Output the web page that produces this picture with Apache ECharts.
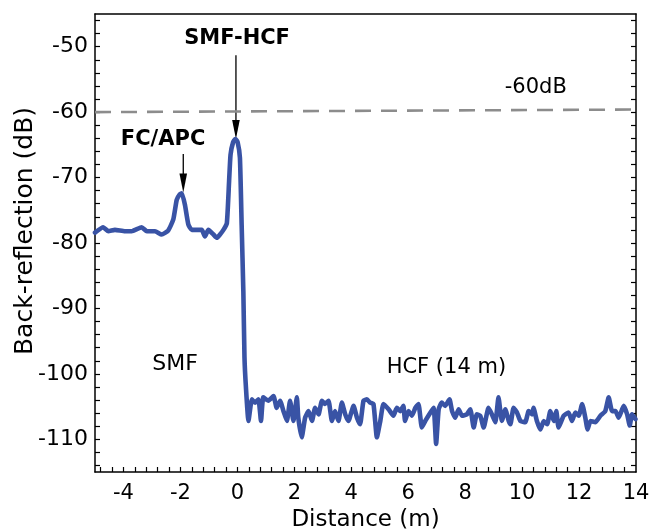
<!DOCTYPE html>
<html>
<head>
<meta charset="utf-8">
<script src="https://cdn.jsdelivr.net/npm/echarts@6/dist/echarts.min.js"></script>
<style>html,body{margin:0;padding:0;background:#fff;}#chart{width:651px;height:530px;}</style>
</head>
<body>
<div id="chart"></div>
<script>
// ---- data ----
const distance = [-5.00,-4.71,-4.53,-4.30,-3.95,-3.71,-3.36,-3.18,-2.89,-2.66,-2.43,-2.25,-2.13,-2.03,-1.95,-1.84,-1.72,-1.60,-1.25,-1.14,-1.02,-0.84,-0.72,-0.61,-0.49,-0.37,-0.29,-0.24,-0.15,-0.07,0.01,0.09,0.15,0.21,0.25,0.30,0.39,0.51,0.62,0.74,0.83,0.91,1.09,1.27,1.38,1.50,1.62,1.74,1.85,1.97,2.09,2.14,2.26,2.38,2.50,2.62,2.73,2.85,2.97,3.08,3.20,3.32,3.43,3.55,3.67,3.79,3.90,4.08,4.20,4.31,4.43,4.55,4.66,4.78,4.90,5.02,5.13,5.31,5.48,5.60,5.72,5.83,5.89,6.01,6.13,6.25,6.36,6.48,6.60,6.71,6.89,6.98,7.07,7.18,7.30,7.45,7.54,7.65,7.77,7.89,8.06,8.18,8.30,8.41,8.53,8.65,8.82,8.94,9.06,9.17,9.29,9.41,9.53,9.59,9.70,9.82,9.94,10.11,10.23,10.35,10.40,10.52,10.64,10.76,10.88,10.99,11.11,11.20,11.28,11.46,11.63,11.75,11.87,11.99,12.11,12.22,12.30,12.40,12.57,12.75,12.92,13.04,13.16,13.28,13.39,13.57,13.69,13.78,13.86,13.98];
const backReflection = [-78.4,-77.6,-78.2,-78.0,-78.2,-78.2,-77.6,-78.2,-78.2,-78.7,-78.1,-76.4,-73.4,-72.6,-72.4,-74.2,-77.2,-78.0,-78.0,-79.0,-78.0,-78.7,-79.2,-78.7,-78.0,-77.0,-70.5,-66.5,-64.6,-64.1,-64.6,-67.0,-77.2,-87.4,-97.5,-102.0,-107.2,-103.9,-104.4,-103.9,-107.2,-103.6,-104.1,-103.4,-105.2,-104.1,-105.7,-107.2,-104.1,-107.2,-103.6,-106.7,-109.7,-106.7,-105.7,-107.2,-105.2,-106.2,-104.1,-104.6,-104.1,-107.2,-105.7,-107.2,-104.4,-106.2,-107.2,-104.9,-106.7,-107.7,-104.1,-103.9,-104.4,-104.6,-109.7,-107.2,-104.6,-105.4,-106.4,-105.2,-105.7,-104.9,-107.2,-105.7,-106.4,-105.2,-104.6,-108.2,-107.2,-106.4,-105.2,-110.7,-105.4,-104.4,-104.9,-103.9,-105.7,-106.7,-105.4,-106.4,-106.2,-105.4,-108.2,-106.2,-106.4,-108.2,-105.2,-106.2,-107.4,-103.6,-107.2,-105.4,-107.2,-107.7,-105.2,-105.9,-107.2,-107.4,-105.7,-106.2,-105.2,-107.2,-108.5,-107.2,-107.7,-105.7,-107.2,-105.7,-108.2,-106.4,-105.9,-107.2,-105.9,-106.4,-104.6,-106.7,-108.5,-107.2,-107.4,-106.4,-105.7,-103.6,-105.7,-105.7,-106.7,-104.9,-106.2,-107.9,-106.2,-106.9];

const xLabelValues = [-4,-2,0,2,4,6,8,10,12,14];
const xTickValues = [-4.8,-4.4,-4,-3.6,-3.2,-2.8,-2.4,-2,-1.6,-1.2,-0.8,-0.4,0,0.4,0.8,1.2,1.6,2,2.4,2.8,3.2,3.6,4,4.4,4.8,5.2,5.6,6,6.4,6.8,7.2,7.6,8,8.4,8.8,9.2,9.6,10,10.4,10.8,11.2,11.6,12,12.4,12.8,13.2,13.6];
const yLabelValues = [-110,-100,-90,-80,-70,-60,-50];
const yTickValues = [-114,-112,-110,-108,-106,-104,-102,-100,-98,-96,-94,-92,-90,-88,-86,-84,-82,-80,-78,-76,-74,-72,-70,-68,-66,-64,-62,-60,-58,-56,-54,-52,-50,-48,-46];

const refLineX = [-5, 14];
const refLineY = [-60, -59.6];

const annotationText = ['SMF-HCF', 'FC/APC', '-60dB', 'SMF', 'HCF (14 m)'];
const annotationX = [-0.01, -2.61, 10.48, -2.19, 7.34];
const annotationY = [-48.7, -64.25, -56.3, -98.55, -99.0];
const annotationBold = [true, true, false, false, false];
const annotationSize = [21, 21, 21, 22, 21];

const arrowX = [-0.05, -1.90];
const arrowYStart = [-51.3, -66.4];
const arrowYEnd = [-64.1, -72.3];

// ---- chart ----
const FONT = 'DejaVu Sans';
const chart = echarts.init(document.getElementById('chart'), null, {renderer: 'canvas'});

const lineData = distance.map((d, i) => [d, backReflection[i]]);
const annData = annotationText.map((t, i) => ({
  value: [annotationX[i], annotationY[i]],
  name: t,
  label: {color: '#000', opacity: 1, fontWeight: annotationBold[i] ? 'bold' : 'normal', fontSize: annotationSize[i], textBorderWidth: 0}
}));
const arrowData = arrowX.map((x, i) => [x, arrowYStart[i], arrowYEnd[i]]);

const axisLineStyle = {color: '#000', width: 1.5};

chart.setOption({
  animation: false,
  backgroundColor: '#fff',
  grid: {left: 95, top: 14, right: 15, bottom: 58, outerBoundsMode: 'none', containLabel: false},
  xAxis: [{
    type: 'value', min: -5, max: 14, position: 'bottom',
    name: 'Distance (m)', nameLocation: 'middle', nameGap: 32,
    nameTextStyle: {fontFamily: FONT, fontSize: 23, color: '#000'},
    axisLine: {show: true, onZero: false, lineStyle: axisLineStyle},
    axisTick: {show: true, inside: true, length: 5, customValues: xTickValues, lineStyle: {color: '#000', width: 1.2}},
    axisLabel: {show: true, customValues: xLabelValues, margin: 11, fontFamily: FONT, fontSize: 21, color: '#000'},
    splitLine: {show: false}, minorTick: {show: false}
  }, {
    type: 'value', min: -5, max: 14, position: 'top',
    axisLine: {show: true, onZero: false, lineStyle: axisLineStyle},
    axisTick: {show: false}, axisLabel: {show: false}, splitLine: {show: false}
  }],
  yAxis: [{
    type: 'value', min: -115, max: -45, position: 'left',
    name: 'Back-reflection (dB)', nameLocation: 'middle', nameGap: 57, nameMoveOverlap: false,
    nameTextStyle: {fontFamily: FONT, fontSize: 25, color: '#000', padding: [0, 0, 0, 24]},
    axisLine: {show: true, onZero: false, lineStyle: axisLineStyle},
    axisTick: {show: true, inside: true, length: 5, customValues: yTickValues, lineStyle: {color: '#000', width: 1.2}},
    axisLabel: {show: true, customValues: yLabelValues, margin: 7, fontFamily: FONT, fontSize: 22, color: '#000'},
    splitLine: {show: false}
  }, {
    type: 'value', min: -115, max: -45, position: 'right',
    axisLine: {show: true, onZero: false, lineStyle: axisLineStyle},
    axisTick: {show: true, inside: true, length: 5, customValues: yTickValues, lineStyle: {color: '#000', width: 1.2}},
    axisLabel: {show: false}, splitLine: {show: false}
  }],
  series: [
    {
      type: 'line', name: '-60dB', data: refLineX.map((x, i) => [x, refLineY[i]]),
      symbol: 'none', silent: true,
      lineStyle: {color: '#8c8c8c', width: 2.6, type: [16, 10]}
    },
    {
      type: 'line', name: 'Back-reflection', data: lineData,
      symbol: 'none', smooth: 0.15, clip: true,
      lineStyle: {color: '#3953a5', width: 4.6, join: 'round', cap: 'round'}
    },
    {
      type: 'custom', name: 'arrows', data: arrowData, silent: true,
      renderItem: function (params, api) {
        const p1 = api.coord([api.value(0), api.value(1)]);
        const p2 = api.coord([api.value(0), api.value(2)]);
        const headLen = 19, headHalf = 3.8;
        return {
          type: 'group',
          children: [
            {type: 'line', shape: {x1: p1[0], y1: p1[1], x2: p2[0], y2: p2[1] - headLen + 2},
             style: {stroke: '#000', lineWidth: 1.3}},
            {type: 'polygon', shape: {points: [[p2[0] - headHalf, p2[1] - headLen], [p2[0] + headHalf, p2[1] - headLen], [p2[0], p2[1]]]},
             style: {fill: '#000'}}
          ]
        };
      }
    },
    {
      type: 'scatter', name: 'annotations', data: annData, symbolSize: 0, silent: true,
      itemStyle: {opacity: 1},
      label: {show: true, position: 'inside', formatter: '{b}', fontFamily: FONT, color: '#000', opacity: 1}
    }
  ]
});
</script>
</body>
</html>
